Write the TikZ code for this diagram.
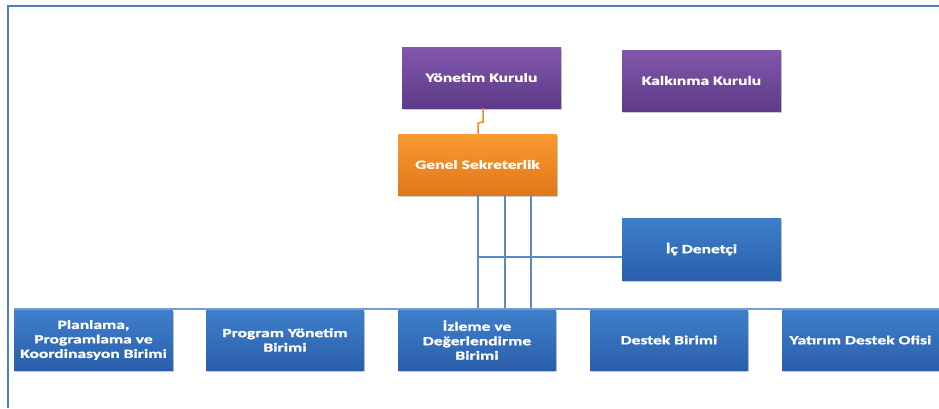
\documentclass[tikz,border=0pt]{standalone}
\usepackage{fontspec}
\newfontfamily\boxfont[FakeStretch=1.4,FakeBold=1.2]{Carlito}
\usetikzlibrary{shadows}
\definecolor{frameblue}{HTML}{4F81BD}
\definecolor{lineblue}{HTML}{5A8ACB}
\definecolor{boxblueT}{HTML}{3F7FCC}
\definecolor{boxblueB}{HTML}{2A5FAA}
\definecolor{purpT}{HTML}{8257AC}
\definecolor{purpB}{HTML}{5E3B88}
\definecolor{orT}{HTML}{F99B30}
\definecolor{orB}{HTML}{E2761A}
\definecolor{orline}{HTML}{F08A24}
\tikzset{
  unit/.style={minimum width=159pt, minimum height=61pt, inner sep=1pt, align=center,
    text=white, font=\boxfont\bfseries\fontsize{12.5}{14.5}\selectfont,
    drop shadow={shadow xshift=1pt, shadow yshift=-2pt, opacity=0.35, fill=black!60}},
  bluebox/.style={unit, top color=boxblueT, bottom color=boxblueB},
  purpbox/.style={unit, top color=purpT, bottom color=purpB},
  orbox/.style={unit, top color=orT, bottom color=orB},
  conn/.style={draw=lineblue, line width=2pt},
  frameline/.style={draw=frameblue, line width=2pt},
}
\begin{document}
\begin{tikzpicture}[x=1pt,y=-1pt]
\useasboundingbox (0,0) rectangle (939,408);
% frame
\coordinate (f1) at (8,408);
\coordinate (f2) at (8,6);
\coordinate (f3) at (939,6);
\draw[frameline] (f1) -- (f2) -- (f3);

% top boxes
\node[purpbox] (yk) at (481.5,77.5) {Yönetim Kurulu};
\node[purpbox] (kk) at (701.5,80.5) {Kalkınma Kurulu};
\node[orbox] (gs) at (477.5,164.5) {Genel Sekreterlik};
\node[bluebox, minimum height=62pt] (id) at (701.5,249) {İç Denetçi};

% connectors (behind bottom boxes)
\coordinate (v1) at (478,309);
\coordinate (v2) at (504.5,309);
\coordinate (v3) at (531,309);
\coordinate (h1) at (478,257);
\coordinate (barL) at (14,309);
\coordinate (barR) at (939,309);
\draw[conn] (gs.south -| v1) -- (v1);
\draw[conn] (gs.south -| v2) -- (v2);
\draw[conn] (gs.south -| v3) -- (v3);
\draw[conn] (h1) -- (id.west |- h1);
\draw[draw=lineblue!85, line width=1.8pt] (barL) -- (barR);

% Yönetim -> Genel (orange)
\coordinate (j1) at (483,122);
\coordinate (j2) at (478,123);
\draw[draw=orline, line width=1.5pt] (yk.south -| j1) -- (j1) -- (j2) -- (gs.north -| j2);

% bottom row
\node[bluebox, minimum height=60pt] (b1) at (93.5,340) {Planlama,\\Programlama ve\\Koordinasyon Birimi};
\node[bluebox, minimum height=60pt, minimum width=158pt] (b2) at (285,340) {Program Yönetim\\Birimi};
\node[bluebox, minimum height=60pt, minimum width=158pt] (b3) at (477,340) {İzleme ve\\Değerlendirme\\Birimi};
\node[bluebox, minimum height=60pt, minimum width=158pt] (b4) at (669,340) {Destek Birimi};
\node[bluebox, minimum height=60pt, minimum width=157pt] (b5) at (860.5,340) {Yatırım Destek Ofisi};
\end{tikzpicture}
\end{document}
